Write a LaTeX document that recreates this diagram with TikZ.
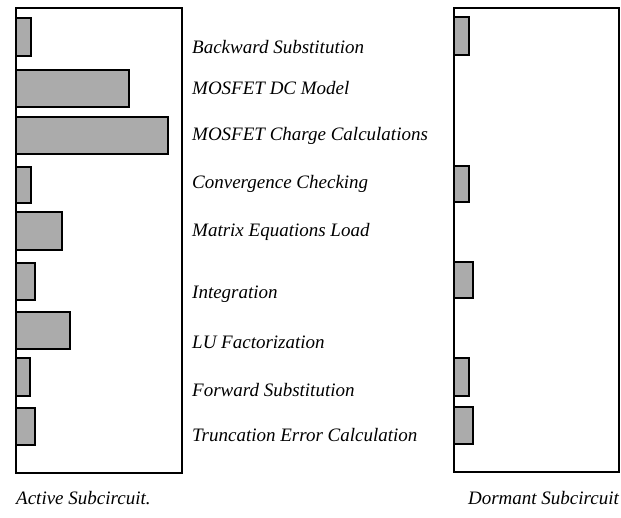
\documentclass[tikz,border=0pt]{standalone}
\usepackage{fontspec}
\setmainfont{Liberation Serif}
\usetikzlibrary{positioning}

\tikzset{
  panel/.style={line width=1.6pt},
  bar/.style={line width=2.2pt, fill=black!33},
  lbl/.style={anchor=west, inner sep=0pt, font=\fontsize{19}{21}\selectfont\itshape},
  caption/.style={inner sep=0pt, font=\fontsize{19}{21}\selectfont\itshape}
}

\begin{document}
\begin{tikzpicture}[x=1pt,y=-1pt]
\useasboundingbox (0,0) rectangle (621,517);
% active subcircuit
\draw[bar] (16.0000,18.0000) rectangle (31.0000,56.0000);
\draw[bar] (16.0000,70.0000) rectangle (129.0000,107.0000);
\draw[bar] (16.0000,117.0000) rectangle (168.0000,154.0000);
\draw[bar] (16.0000,167.0000) rectangle (31.0000,203.0000);
\draw[bar] (16.0000,212.0000) rectangle (62.0000,250.0000);
\draw[bar] (16.0000,263.0000) rectangle (35.0000,300.0000);
\draw[bar] (16.0000,312.0000) rectangle (70.0000,349.0000);
\draw[bar] (16.0000,358.0000) rectangle (30.0000,396.0000);
\draw[bar] (16.0000,408.0000) rectangle (35.0000,445.0000);
\draw[panel] (16.0000,8.0000) rectangle (182.0000,473.0000);
% dormant subcircuit
\draw[bar] (454.0000,17.0000) rectangle (469.0000,55.0000);
\draw[bar] (454.0000,166.0000) rectangle (469.0000,202.0000);
\draw[bar] (454.0000,262.0000) rectangle (473.0000,298.0000);
\draw[bar] (454.0000,358.0000) rectangle (469.0000,396.0000);
\draw[bar] (454.0000,407.0000) rectangle (473.0000,444.0000);
\draw[panel] (454.0000,8.0000) rectangle (619.0000,472.0000);
% labels
\node[lbl] (bsub) at (192,47) {Backward Substitution};
\node[lbl] (dcmod) at (192,88) {MOSFET DC Model};
\node[lbl] (chg) at (192,136) {MOSFET Charge Calculations};
\node[lbl] (conv) at (192,184) {Convergence Checking};
\node[lbl] (mload) at (192,232) {Matrix Equations Load};
\node[lbl] (integ) at (192,294) {Integration};
\node[lbl] (luf) at (192,342) {LU Factorization};
\node[lbl] (fsub) at (192,390) {Forward Substitution};
\node[lbl] (trunc) at (192,435) {Truncation Error Calculation};
\node[caption, anchor=west] (active) at (16,498) {Active Subcircuit.};
\node[caption, anchor=east] (dormant) at (619,498) {Dormant Subcircuit};
\end{tikzpicture}
\end{document}
